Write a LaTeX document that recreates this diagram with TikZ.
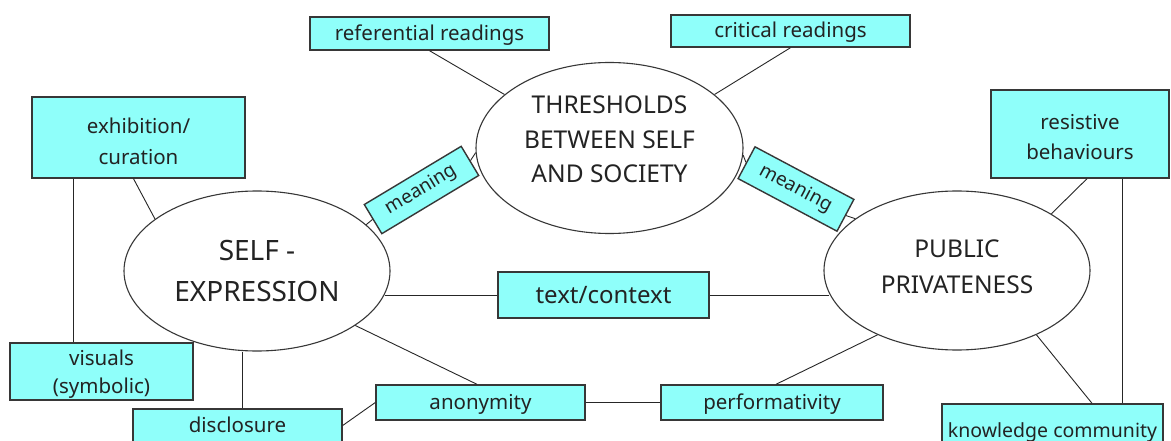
\documentclass[tikz,border=0pt]{standalone}
\usepackage{fontspec}
\setmainfont{Noto Sans}
\usetikzlibrary{shapes.geometric}
\definecolor{boxfill}{RGB}{143,255,250}
\definecolor{edgegray}{RGB}{55,55,55}
\definecolor{txtcol}{RGB}{35,35,35}
\newcommand{\fsz}[2]{\fontsize{#1}{#2}\selectfont}
\begin{document}
\begin{tikzpicture}[x=1pt,y=-1pt,
  lbl/.style={draw=edgegray, line width=1.4pt, fill=boxfill, inner sep=0pt, text=txtcol, align=center, font=\fsz{20.5}{31}},
  oneline/.style={text height=18pt, text depth=4pt},
  oval/.style={ellipse, draw=edgegray, line width=1.1pt, fill=white, inner sep=0pt, text=txtcol, align=center},
  link/.style={line width=0.9pt, draw=black!85}]
\useasboundingbox (0,0) rectangle (1171,441);
\fill[white] (0,0) rectangle (1171,441);
\clip (0,0) rectangle (1171,441);
% ellipses
\node[oval, minimum width=267pt, minimum height=171pt, font=\fsz{24.5}{34.5}] (thr) at (609.5,148) {THRESHOLDS\\BETWEEN SELF\\AND SOCIETY\rule[-17pt]{0pt}{0pt}};
\node[oval, minimum width=266pt, minimum height=160pt, font=\fsz{28}{40.5}] (self) at (257,271) {SELF -\\EXPRESSION};
\node[oval, minimum width=266pt, minimum height=159pt, font=\fsz{24.5}{35.5}] (pub) at (957,270.5) {PUBLIC\\PRIVATENESS\rule[-8pt]{0pt}{8pt}};
% boxes
\node[lbl, oneline, minimum width=239pt, minimum height=33pt] (ref) at (429.5,33.5) {referential readings};
\node[lbl, oneline, minimum width=239pt, minimum height=32pt] (crit) at (790.5,31) {critical readings};
\node[lbl, minimum width=213pt, minimum height=81pt] (exh) at (138.5,137.5) {\rule{0pt}{24pt}exhibition/\\curation};
\node[lbl, minimum width=183pt, minimum height=57pt, font=\fsz{20.5}{28}] (vis) at (101.5,371.5) {\rule{0pt}{20pt}visuals\\(symbolic)};
\node[lbl, oneline, minimum width=209pt, minimum height=33pt] (disc) at (237.5,425.5) {disclosure};
\node[lbl, oneline, minimum width=209pt, minimum height=35pt] (anon) at (480.5,402.5) {anonymity};
\node[lbl, oneline, minimum width=222pt, minimum height=35pt] (perf) at (772,402.5) {performativity};
\node[lbl, minimum width=211pt, minimum height=46pt, font=\fsz{24}{30}, text height=21pt, text depth=5pt] (ctx) at (603.5,295) {text/context};
\node[lbl, minimum width=178pt, minimum height=88pt, font=\fsz{20.5}{30}] (res) at (1080,134) {\rule{0pt}{21pt}resistive\\behaviours};
\node[lbl, oneline, minimum width=221pt, minimum height=52pt, font=\fsz{19.5}{28}] (know) at (1052.5,430) {knowledge community};
\node[lbl, minimum width=113pt, minimum height=34pt, rotate=31, font=\fsz{19}{24}] (mL) at (421.5,190) {meaning};
\node[lbl, minimum width=112pt, minimum height=36pt, rotate=-28, font=\fsz{19}{24}] (mR) at (796,189) {meaning};
% helper points
\coordinate (e1) at ([xshift=-65.5pt]exh.south);
\coordinate (d1) at ([xshift=4.5pt]disc.north);
\coordinate (r1) at ([xshift=42pt]res.south);
% connectors
\draw[link] (ref.south) -- (thr.153);
\draw[link] (crit.south) -- (thr.27);
\draw[link] ([xshift=-5pt]exh.south) -- (self.153);
\draw[link] (e1) -- (e1 |- vis.north);
\draw[link] (d1) -- (d1 |- self.south);
\draw[link] (self.-29) -- ([xshift=-3.5pt]anon.north);
\draw[link] (disc.east) -- (anon.west);
\draw[link] (anon.east) -- (perf.west);
\draw[link] ([xshift=4pt]perf.north) -- (pub.219);
\draw[link] (ctx.west) -- (ctx.west -| self.-10);
\draw[link] (ctx.east) -- (ctx.east -| pub.190);
\draw[link] ([xshift=7pt]res.south) -- (pub.31);
\draw[link] ([xshift=39.5pt]know.north) -- (pub.-39);
\draw[link] (r1) -- (r1 |- know.north);
\draw[link] (self.23) -- (mL.west);
\draw[link] (mL.east) -- (thr.182);
\draw[link] (thr.-3) -- (mR.west);
\draw[link] (mR.east) -- (pub.153);
\end{tikzpicture}
\end{document}
